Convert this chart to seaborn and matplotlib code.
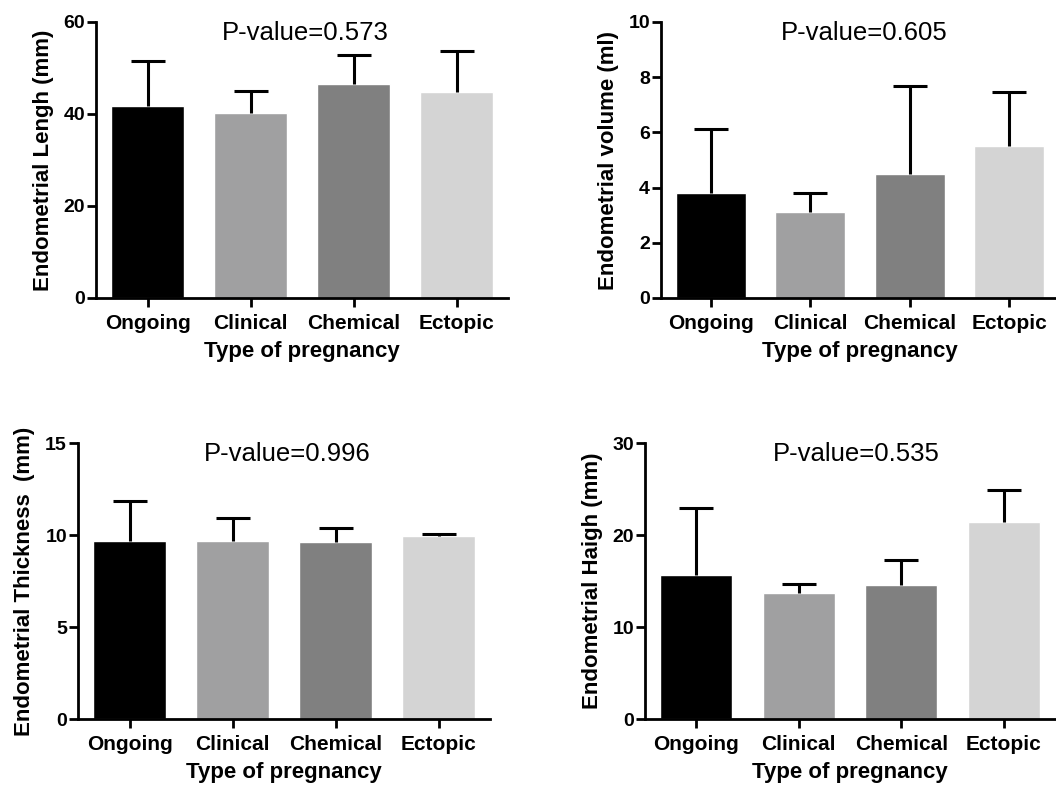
import numpy as np
import seaborn as sns
import matplotlib
matplotlib.use("Agg")
import matplotlib.pyplot as plt

categories = ["Ongoing", "Clinical", "Chemical", "Ectopic"]
colors = ["#000000", "#A0A0A1", "#808080", "#D4D4D4"]

length_mean = [41.8, 40.3, 46.5, 44.8]
length_sd = [9.8, 4.8, 6.4, 8.9]
volume_mean = [3.8, 3.1, 4.5, 5.5]
volume_sd = [2.33, 0.7, 3.18, 1.97]
thick_mean = [9.7, 9.65, 9.6, 9.95]
thick_sd = [2.15, 1.3, 0.8, 0.12]
haigh_mean = [15.7, 13.75, 14.6, 21.45]
haigh_sd = [7.2, 0.95, 2.7, 3.45]

panels = [
    # mean, sd, ylabel, p-value, ymax, yticks, (left px, zero px, width px), p-text x
    (length_mean, length_sd, "Endometrial Lengh (mm)", "P-value=0.573",
     60, [0, 20, 40, 60], (96, 298, 412), 0.507),
    (volume_mean, volume_sd, "Endometrial volume (ml)", "P-value=0.605",
     10, [0, 2, 4, 6, 8, 10], (661, 298, 398), 0.51),
    (thick_mean, thick_sd, "Endometrial Thickness  (mm)", "P-value=0.996",
     15, [0, 5, 10, 15], (78, 719, 412), 0.507),
    (haigh_mean, haigh_sd, "Endometrial Haigh (mm)", "P-value=0.535",
     30, [0, 10, 20, 30], (645, 719, 410), 0.515),
]

sns.set_style("ticks")
plt.rcParams["font.family"] = ["Liberation Sans", "DejaVu Sans"]
plt.rcParams["text.color"] = "black"
plt.rcParams["axes.labelcolor"] = "black"

W, H = 1056, 787
fig = plt.figure(figsize=(W / 100, H / 100), dpi=100)

for mean, sd, ylabel, ptext, ymax, yticks, (left, zero, width), px in panels:
    ax = fig.add_axes([left / W, 1 - zero / H, width / W, 276 / H])
    sns.barplot(x=categories, y=mean, hue=categories, palette=colors,
                legend=False, width=0.7, saturation=1, ax=ax)
    # upper-only SD bars
    _, caps, _ = ax.errorbar(np.arange(len(categories)), mean,
                             yerr=[np.zeros(len(sd)), sd], fmt="none",
                             ecolor="black", elinewidth=2.2, capsize=12.5,
                             capthick=2.2)
    caps[0].set_visible(False)
    ax.set_xlim(-0.5, 3.5)
    ax.set_ylim(0, ymax)
    ax.set_yticks(yticks)
    ax.set_ylabel(ylabel, fontsize=16, fontweight="bold", labelpad=7)
    ax.set_xlabel("Type of pregnancy", fontsize=16, fontweight="bold",
                  labelpad=6)
    ax.text(px, 0.96, ptext, transform=ax.transAxes, ha="center",
            va="center", fontsize=18.5, color="black")
    sns.despine(ax=ax)
    for s in ["left", "bottom"]:
        ax.spines[s].set_linewidth(2)
        ax.spines[s].set_color("black")
    ax.tick_params(width=2, length=6.5, colors="black")
    ax.tick_params(axis="x", labelsize=15, pad=5)
    ax.tick_params(axis="y", labelsize=14, pad=1.5)
    for lab in ax.get_xticklabels() + ax.get_yticklabels():
        lab.set_fontweight("bold")

fig.savefig("out.png", dpi=100)
